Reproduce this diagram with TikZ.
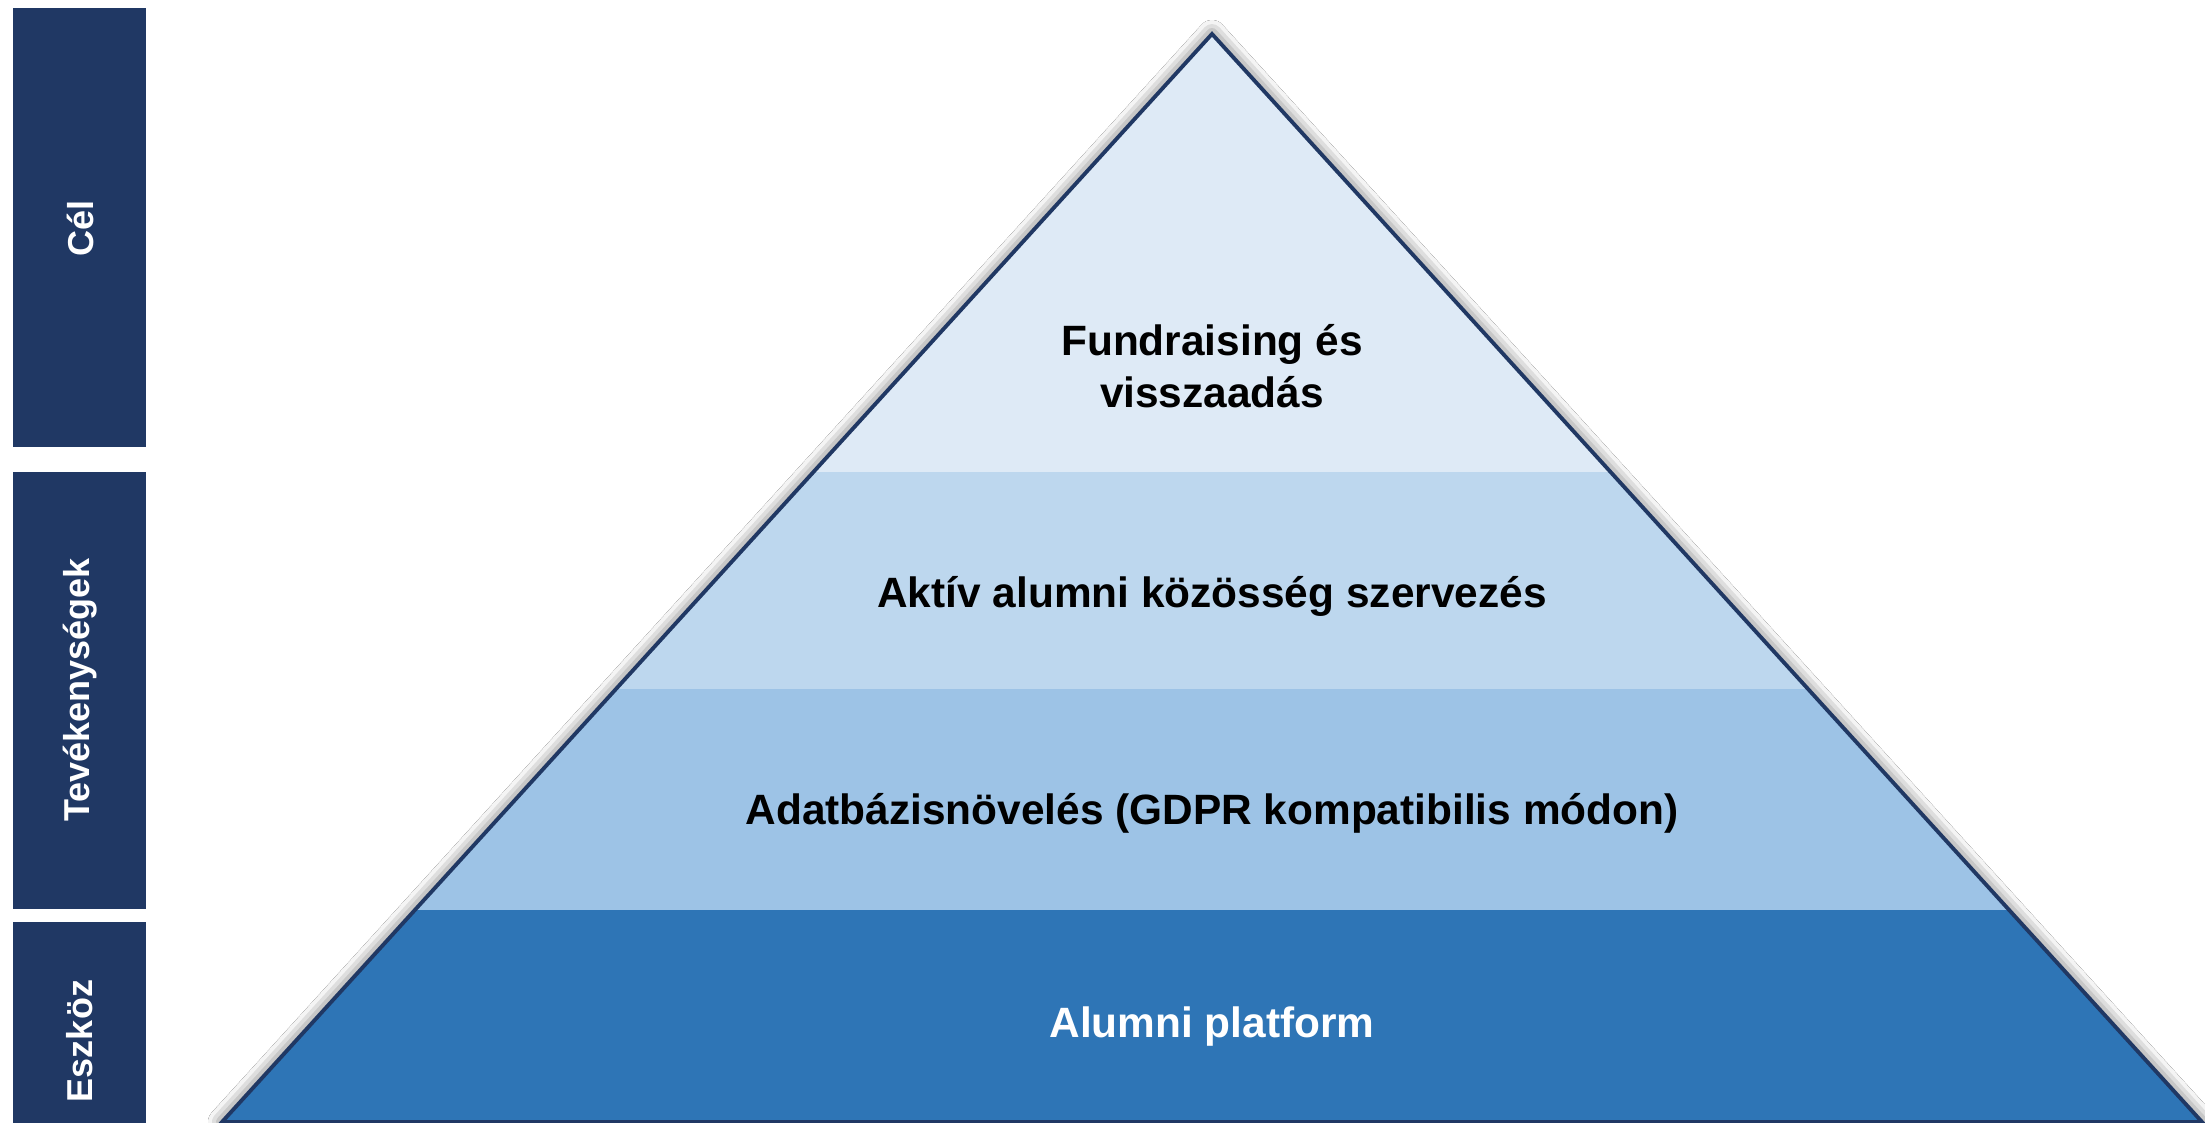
\documentclass[tikz,border=0pt]{standalone}
\usepackage{fontspec}
\setmainfont{Liberation Sans}
\usetikzlibrary{shadows.blur}
\definecolor{navy}{HTML}{203864}
\definecolor{bandA}{HTML}{DEEAF6}
\definecolor{bandB}{HTML}{BDD7EE}
\definecolor{bandC}{HTML}{9DC3E6}
\definecolor{bandD}{HTML}{2E75B6}
\tikzset{
  sidebar/.style={fill=navy, draw=none},
  sidelabel/.style={text=white, font=\bfseries\fontsize{18}{21}\selectfont, rotate=90, inner sep=0pt},
  bandlabel/.style={text=black, font=\bfseries\fontsize{21.2}{26}\selectfont, align=center, inner sep=0pt},
}
\begin{document}
\begin{tikzpicture}[x=0.5pt,y=-0.5pt]
\useasboundingbox (0,0) rectangle (2205,1123);
\fill[white] (0,0) rectangle (2205,1123);
% left bars
\fill[sidebar] (13,8) rectangle (146,447);
\fill[sidebar] (13,472) rectangle (146,909);
\fill[sidebar] (13,922) rectangle (146,1140);
\node[sidelabel] (cel) at (80,228) {Cél};
\node[sidelabel] (tev) at (80,690) {Tevékenységek};
\node[sidelabel] (esz) at (80,1041) {Eszköz};
% pyramid
\coordinate (apex) at (1212,34);
\coordinate (bl) at (222,1122);
\coordinate (br) at (2202,1122);
\fill[white, blur shadow={shadow xshift=0pt, shadow yshift=0pt, shadow blur radius=7pt, shadow scale=1.0, shadow opacity=70}] (apex) -- (br) -- (bl) -- cycle;
\begin{scope}
  \clip (apex) -- (br) -- (bl) -- cycle;
  \fill[bandA] (200,0) rectangle (2205,472);
  \fill[bandB] (200,472) rectangle (2205,689);
  \fill[bandC] (200,689) rectangle (2205,910);
  \fill[bandD] (200,910) rectangle (2205,1140);
\end{scope}
\draw[navy, line width=1.9pt, line join=miter] (apex) -- (br) -- (bl) -- cycle;
\node[bandlabel] (fund) at (1212,366) {Fundraising és\\visszaadás};
\node[bandlabel] (akt) at (1212,596) {Aktív alumni közösség szervezés};
\node[bandlabel] (adat) at (1212,813) {Adatbázisnövelés (GDPR kompatibilis módon)};
\node[bandlabel, text=white] (plat) at (1212,1027) {Alumni platform};
\end{tikzpicture}
\end{document}
